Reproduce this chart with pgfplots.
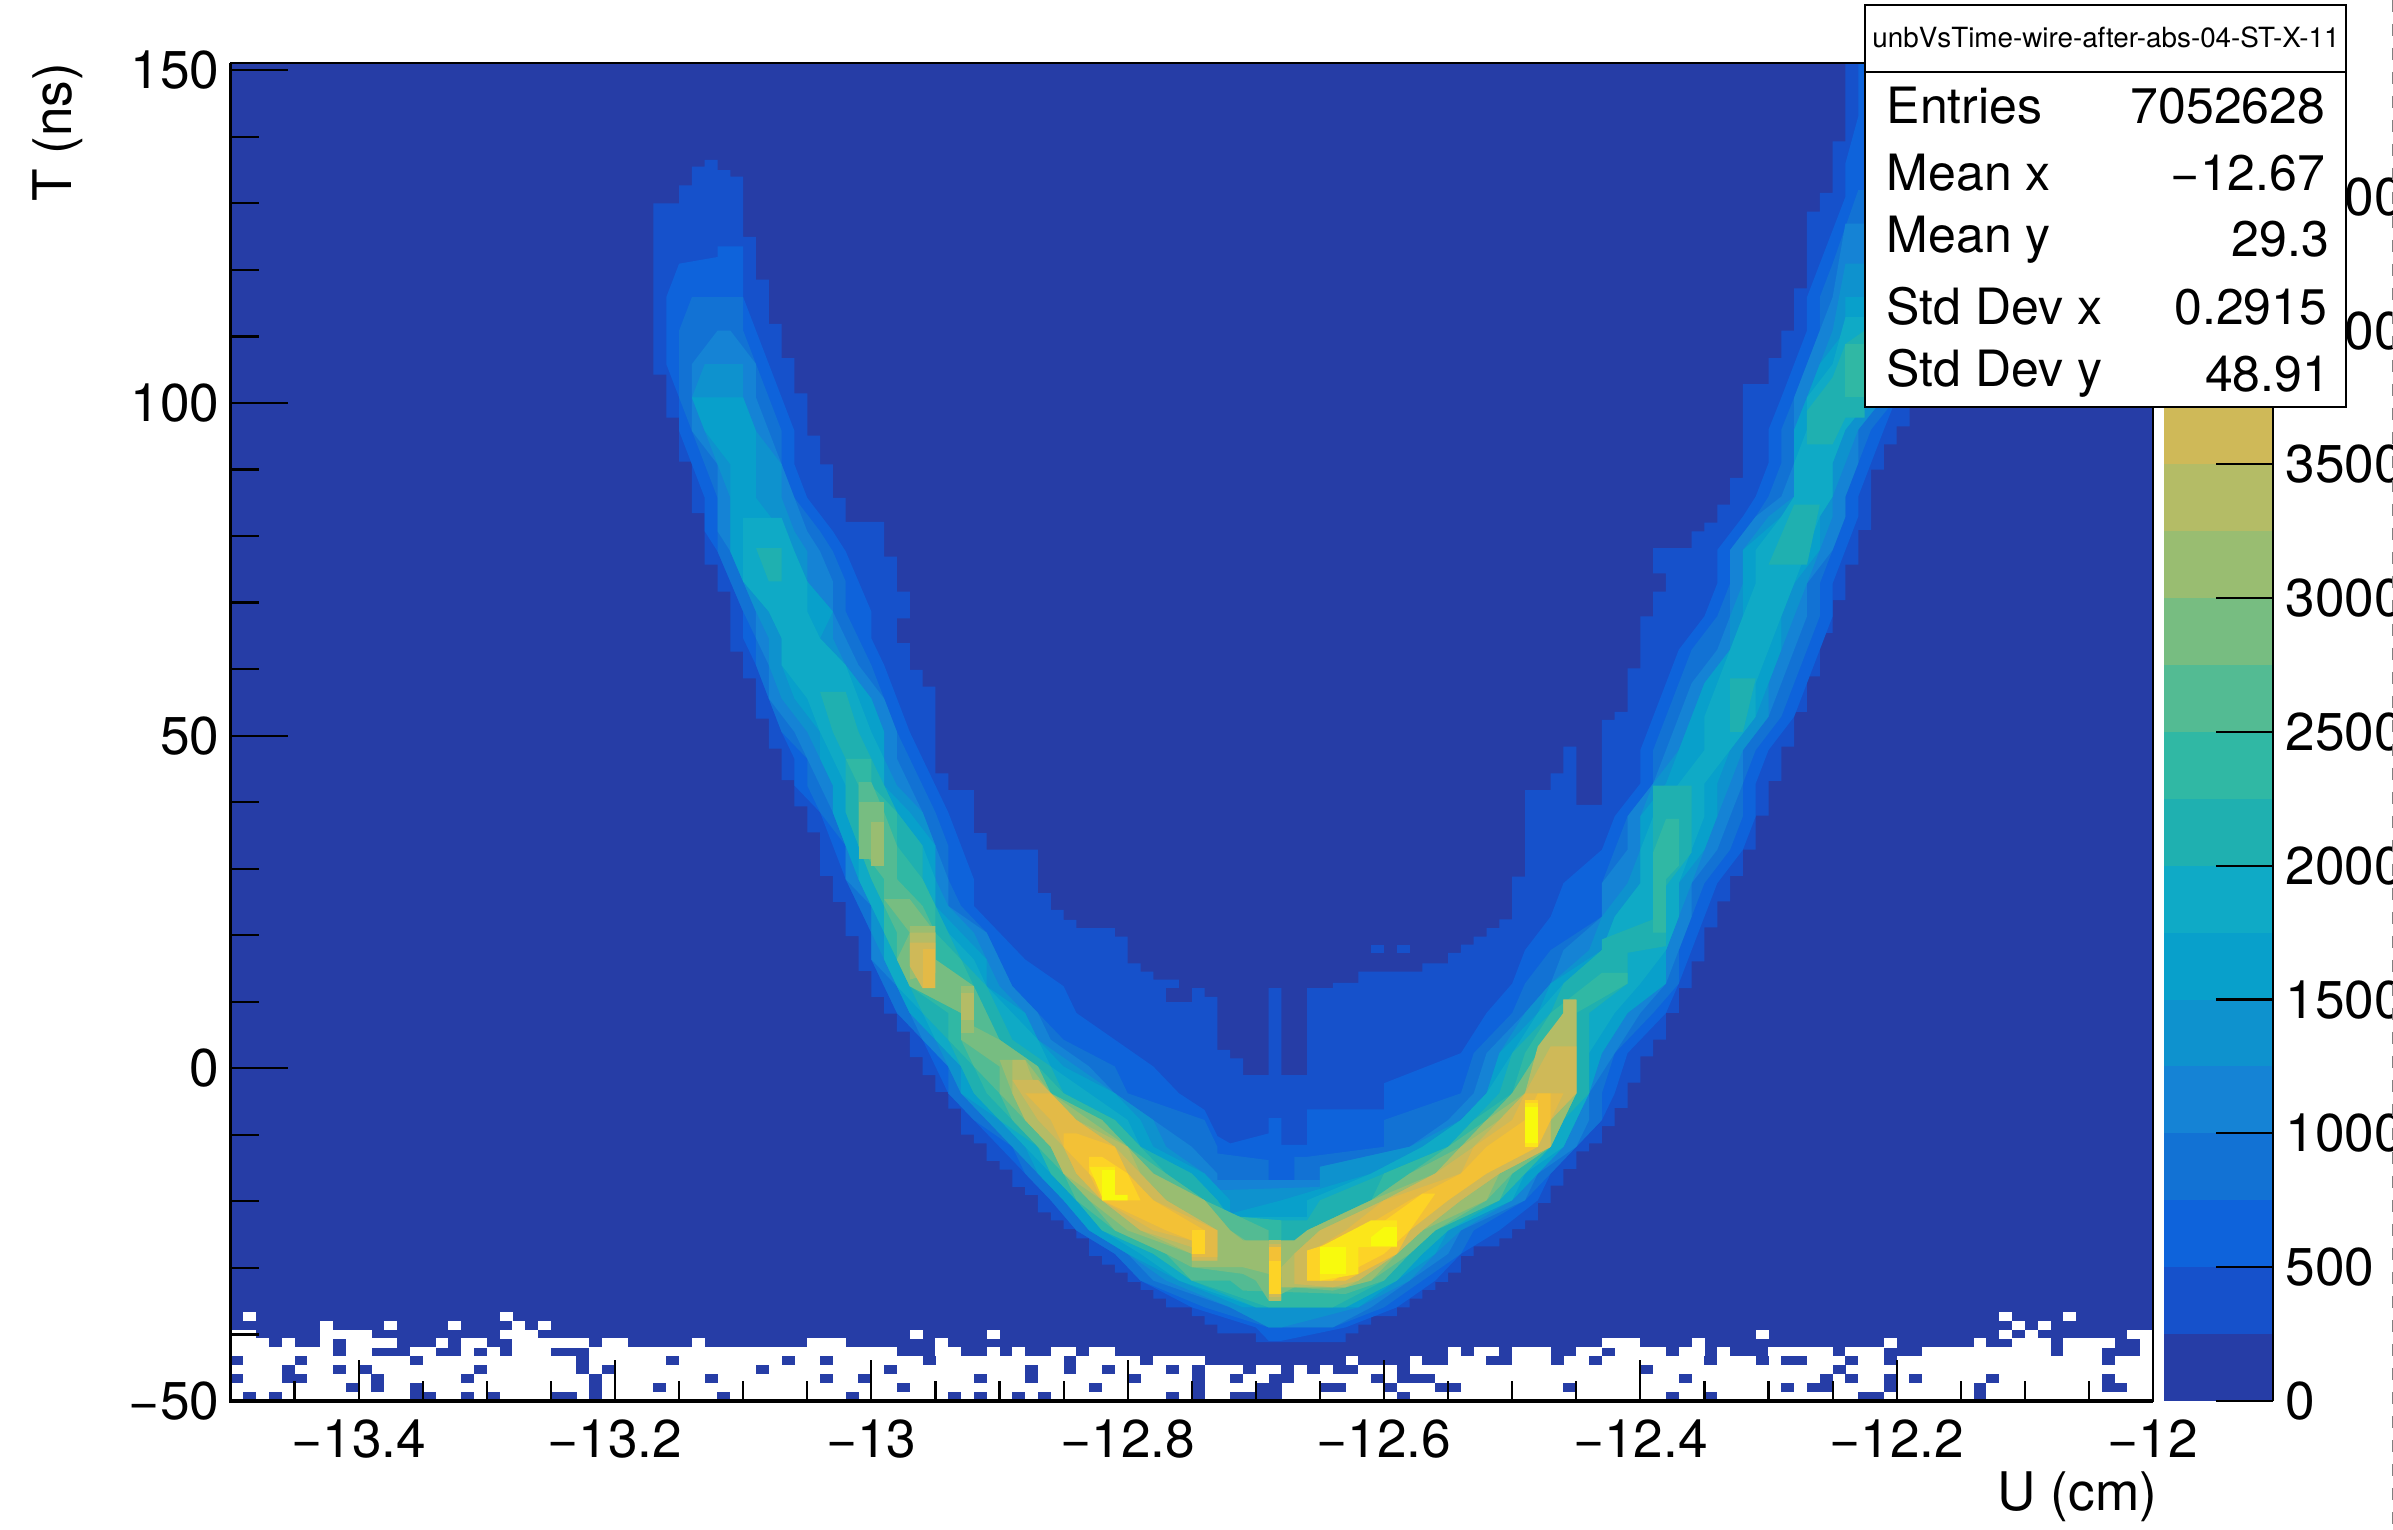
\documentclass[border=0pt]{standalone}
\usepackage{fontspec}
\setmainfont{TeX Gyre Heros}
\usepackage{pgfplots}
\pgfplotsset{compat=1.18}
\definecolor{L0}{RGB}{38,61,166}
\definecolor{L1}{RGB}{22,81,203}
\definecolor{L2}{RGB}{14,99,219}
\definecolor{L3}{RGB}{18,114,212}
\definecolor{L4}{RGB}{21,131,213}
\definecolor{L5}{RGB}{14,146,206}
\definecolor{L6}{RGB}{8,160,203}
\definecolor{L7}{RGB}{15,170,198}
\definecolor{L8}{RGB}{31,176,176}
\definecolor{L9}{RGB}{48,184,164}
\definecolor{L10}{RGB}{83,187,147}
\definecolor{L11}{RGB}{119,189,129}
\definecolor{L12}{RGB}{153,189,113}
\definecolor{L13}{RGB}{180,188,102}
\definecolor{L14}{RGB}{207,185,88}
\definecolor{L15}{RGB}{227,186,71}
\definecolor{L16}{RGB}{243,193,54}
\definecolor{L17}{RGB}{253,211,38}
\definecolor{L18}{RGB}{251,230,26}
\definecolor{L19}{RGB}{248,250,13}
\newcommand\fa{\fontsize{13.3pt}{16pt}\selectfont}
\newcommand\fs{\fontsize{12.5pt}{15pt}\selectfont}
\pgfdeclareplotmark{cell}{\pgfpathrectangle{\pgfqpoint{-1.62pt}{-1.13pt}}{\pgfqpoint{3.24pt}{2.26pt}}\pgfusepathqfill}
\newcommand\lev[2]{\addplot[fill=#1,draw=none,forget plot] coordinates {#2};}
\newcommand\cellrow[3]{\addplot[only marks,mark=cell,color=#1,mark options={fill=#1,draw=none},forget plot] table[row sep=\\,x expr=-13.495+0.01*\thisrow{c},y expr=#2] {c\\#3\\};}
\begin{document}
\begin{tikzpicture}
\path[use as bounding box] (0pt,0pt) rectangle (598.25pt,382.25pt);
% ---------- main heat map ----------
\begin{axis}[
  at={(57.625pt,32pt)},anchor=south west,scale only axis,
  width=480.625pt,height=334.5pt,
  xmin=-13.5,xmax=-12,ymin=-50,ymax=150,
  axis background/.style={fill=L0},
  axis on top,clip mode=individual,
  axis line style={line width=0.4pt},
  tick style={black,line width=0.55pt},
  tick align=inside,xtick pos=lower,ytick=\empty,
  major tick length=10.2pt,minor tick length=5pt,
  xtick={-13.4,-13.2,-13,-12.8,-12.6,-12.4,-12.2,-12},
  xticklabels={−13.4,−13.2,−13,−12.8,−12.6,−12.4,−12.2,−12},
  minor xtick={-13.45,-13.35,-13.3,-13.25,-13.15,-13.1,-13.05,-12.95,-12.9,-12.85,-12.75,-12.7,-12.65,-12.55,-12.5,-12.45,-12.35,-12.3,-12.25,-12.15,-12.1,-12.05},
  xticklabel style={font=\fa,yshift=-1.1pt},
]
% white (empty) bins near the bottom edge
\addplot[fill=white,draw=none,forget plot] coordinates {(-13.5,-50)(-12,-50)(-12,-43.33)(-13.5,-43.33)};
\cellrow{L0}{-49.33}{1\\3\\14\\15\\18\\20\\25\\26\\28\\38\\48\\56\\58\\61\\63\\73\\75\\78\\79\\80\\81\\91\\112\\115\\127\\128\\136}
\cellrow{L0}{-48}{9\\11\\14\\28\\33\\52\\67\\75\\80\\81\\85\\86\\90\\94\\95\\104\\121\\123\\124\\129\\136\\146\\147}
\cellrow{L0}{-46.67}{0\\4\\5\\11\\18\\28\\37\\46\\49\\58\\62\\70\\75\\78\\81\\82\\89\\91\\92\\93\\113\\124\\126\\129\\131\\137\\146}
\cellrow{L0}{-45.33}{4\\8\\10\\19\\27\\29\\41\\51\\62\\65\\68\\73\\75\\79\\82\\84\\86\\87\\91\\110\\125}
\cellrow{L0}{-44}{0\\5\\14\\27\\34\\43\\46\\54\\65\\71\\76\\77\\78\\79\\80\\81\\82\\83\\84\\85\\86\\88\\89\\90\\91\\93\\94\\98\\99\\103\\106\\115\\119\\121\\122\\126\\129\\146}
\cellrow{white}{-42.67}{0\\1\\2\\3\\4\\5\\6\\7\\9\\10\\14\\15\\18\\20\\22\\23\\24\\28\\29\\30\\31\\32\\33\\34\\35\\36\\37\\38\\39\\40\\41\\42\\43\\44\\45\\46\\47\\48\\49\\50\\51\\55\\56\\59\\61\\64\\65\\67\\68\\95\\97\\98\\100\\101\\102\\105\\106\\108\\109\\110\\111\\113\\114\\116\\120\\121\\122\\123\\124\\126\\127\\128\\132\\133\\134\\135\\136\\137\\138\\139\\140\\141\\143\\144\\145\\149}
\cellrow{white}{-41.33}{0\\1\\2\\4\\7\\9\\10\\11\\12\\16\\18\\19\\22\\23\\24\\25\\26\\27\\29\\30\\36\\45\\46\\47\\55\\107\\108\\109\\114\\129\\136\\139\\140\\141\\143\\144\\145\\146\\149}
\cellrow{white}{-40}{0\\1\\7\\8\\9\\10\\21\\22\\23\\53\\59\\119\\138\\140\\148\\149}
\cellrow{white}{-38.67}{7\\12\\17\\22\\24\\139\\141}
\cellrow{white}{-37.33}{1\\21\\138\\143}
% level 1 outline, stepped
\addplot[fill=L1,draw=none,const plot,forget plot] coordinates {
(-13.13,135.5)(-13.13,134.5)(-13.14,133)(-13.14,131.7)(-13.15,129)(-13.17,103.4)(-13.16,97)(-13.15,90.4)(-13.14,82.7)(-13.13,75)(-13.12,71)(-13.11,62)(-13.10,58)(-13.09,52)(-13.08,47.5)(-13.07,42.8)(-13.06,38.9)(-13.05,35)(-13.04,28.5)(-13.03,24.6)(-13.02,19.5)(-13.01,14.3)(-13.00,10.4)(-12.99,7.9)(-12.98,5.2)(-12.97,1.4)(-12.96,-1.3)(-12.95,-3.8)(-12.94,-6.3)(-12.93,-10.2)(-12.92,-11.5)(-12.91,-14.1)(-12.90,-15.4)(-12.89,-18)(-12.88,-19.2)(-12.87,-21.8)(-12.86,-23)(-12.85,-24.3)(-12.84,-25.7)(-12.83,-28.3)(-12.82,-29.6)(-12.81,-30.8)(-12.80,-32.2)(-12.79,-33.4)(-12.78,-34.7)(-12.77,-36)(-12.75,-37.3)(-12.74,-38.6)(-12.73,-39.9)(-12.70,-41.2)(-12.63,-41.2)
(-12.63,-39.9)(-12.62,-38.6)(-12.61,-37.3)(-12.59,-36)(-12.58,-34.7)(-12.57,-33.4)(-12.56,-32.2)(-12.55,-30.8)(-12.54,-28.3)(-12.53,-26.9)(-12.51,-25.7)(-12.50,-24.3)(-12.49,-23)(-12.48,-20.4)(-12.47,-17.8)(-12.46,-15.3)(-12.45,-12.7)(-12.44,-11.5)(-12.43,-8.9)(-12.42,-6.2)(-12.41,-2.4)(-12.40,1.5)(-12.39,4)(-12.38,8)(-12.37,11.7)(-12.36,15.7)(-12.35,20.8)(-12.34,24.7)(-12.33,28.5)(-12.32,32.4)(-12.31,37.5)(-12.30,42.7)(-12.29,47.8)(-12.28,53)(-12.27,58.3)(-12.26,64.8)(-12.25,69.7)(-12.24,75)(-12.23,80.2)(-12.22,89.2)(-12.21,93)(-12.20,95.7)(-12.19,150)(-12.24,150)
(-12.24,138.3)(-12.25,130.6)(-12.26,127.8)(-12.27,116.3)(-12.28,110)(-12.29,105.9)(-12.30,102)(-12.32,88)(-12.33,84)(-12.34,81.3)(-12.35,80)(-12.36,77.5)(-12.37,77.5)(-12.39,73.7)(-12.38,71)(-12.39,67.3)(-12.40,59.5)(-12.41,53)(-12.42,51.8)(-12.43,39.1)(-12.45,47.8)(-12.46,43.8)(-12.47,41.3)(-12.49,28.4)(-12.50,22)(-12.51,20.7)(-12.52,19.4)(-12.53,18.2)(-12.54,17)(-12.55,15.4)(-12.57,14.2)(-12.62,12.5)(-12.64,11.7)(-12.66,-1.3)(-12.68,11.7)(-12.69,-1.3)
(-12.70,-1.3)(-12.71,1.2)(-12.72,2.5)(-12.73,10.4)(-12.74,11.7)(-12.76,13)(-12.78,14.2)(-12.79,15.4)(-12.80,19.4)(-12.81,20.7)(-12.84,21.9)(-12.85,23.4)(-12.86,25.9)(-12.87,32.4)(-12.91,34.9)(-12.92,41.3)(-12.94,43.8)(-12.95,56.8)(-12.96,59.3)(-12.97,63.3)(-12.98,67)(-12.97,71)(-12.98,76.2)(-12.99,81.4)(-13.02,85)(-13.03,90)(-13.04,94.3)(-13.05,100.6)(-13.06,105.9)(-13.07,111)(-13.08,117.6)(-13.09,124)(-13.10,133)(-13.11,134)(-13.12,135.5)};
% holes and bumps of level 1
\lev{L0}{(-12.77,9.7)(-12.75,9.7)(-12.75,11.7)(-12.77,11.7)}
\lev{L1}{(-12.61,16.9)(-12.60,16.9)(-12.60,18.2)(-12.61,18.2)}
\lev{L1}{(-12.59,16.9)(-12.58,16.9)(-12.58,18.2)(-12.59,18.2)}
% level 2
\lev{L2}{(-13.10,122.6)(-13.12,122.6)(-13.12,121)(-13.15,120)(-13.16,115)(-13.16,105)(-13.15,100)(-13.15,95)(-13.14,90)(-13.13,85)(-13.13,80)(-13.12,77)(-13.11,72.5)(-13.10,68)(-13.10,64)(-13.09,60)(-13.08,55)(-13.07,50)(-13.06,46)(-13.06,42)(-13.04,38)(-13.03,33)(-13.02,28)(-13.01,24)(-13.00,20)(-13.00,16)(-12.99,12)(-12.98,8)(-12.96,4)(-12.95,0)(-12.94,-4)(-12.92,-8)(-12.90,-12)(-12.88,-16)(-12.86,-20)(-12.84,-24.5)(-12.81,-28)(-12.79,-32)(-12.75,-36)(-12.70,-39)(-12.69,-41)(-12.68,-41)(-12.63,-39)(-12.59,-36)(-12.56,-32)(-12.54,-28)(-12.51,-24.5)(-12.48,-20)(-12.47,-16)(-12.45,-12)(-12.43,-8)(-12.42,-4)(-12.41,2)(-12.38,8)(-12.37,12.4)(-12.36,17.4)(-12.35,22.4)(-12.34,27.4)(-12.32,32.4)(-12.31,37.4)(-12.31,42.3)(-12.30,47.3)(-12.28,52.3)(-12.27,57.3)(-12.26,62.3)(-12.25,67.3)(-12.25,72.2)(-12.24,77.2)(-12.23,82.2)(-12.23,85.2)(-12.22,90.2)(-12.21,95.2)(-12.20,100)(-12.20,150)(-12.23,150)(-12.23,142)(-12.24,135)(-12.24,130)(-12.25,125)(-12.26,120)(-12.27,115)(-12.27,110)(-12.28,105)(-12.29,100)(-12.30,95.2)(-12.30,90.2)(-12.31,85.2)(-12.32,82.2)(-12.34,77.2)(-12.34,72.2)(-12.35,67.3)(-12.37,62.3)(-12.38,57.3)(-12.39,52.3)(-12.40,47.3)(-12.40,42.3)(-12.42,37.4)(-12.43,32.4)(-12.46,27.4)(-12.47,22.4)(-12.49,17.4)(-12.50,12.4)(-12.52,8)(-12.54,2)(-12.60,-2.5)(-12.60,-6.4)(-12.66,-6.4)(-12.66,-11.7)(-12.68,-11.7)(-12.68,-7.7)(-12.69,-7.7)(-12.69,-10)(-12.72,-11.5)(-12.73,-10.4)(-12.74,-6.5)(-12.76,-4)(-12.78,0)(-12.81,4)(-12.84,8)(-12.85,12)(-12.88,16)(-12.90,20)(-12.92,24)(-12.92,28)(-12.93,33)(-12.94,38)(-12.95,42)(-12.96,46)(-12.97,50)(-12.98,55)(-12.99,60)(-13.00,64)(-13.00,68)(-13.01,72.5)(-13.02,77)(-13.03,80)(-13.05,85)(-13.06,90)(-13.06,95)(-13.07,100)(-13.08,105)(-13.09,110)(-13.10,115)}
% level 3
\lev{L3}{(-13.14,115)(-13.15,110)(-13.15,105)(-13.15,100)(-13.14,95)(-13.13,90)(-13.12,85)(-13.12,80)(-13.12,77)(-13.11,72.5)(-13.10,68)(-13.09,64)(-13.09,60)(-13.08,55)(-13.07,50)(-13.05,46)(-13.05,42)(-13.04,38)(-13.02,33)(-13.02,28)(-13.01,24)(-13.00,20)(-13.00,16)(-12.99,12)(-12.98,8)(-12.96,4)(-12.94,0)(-12.94,-4)(-12.92,-8)(-12.89,-12)(-12.88,-16)(-12.86,-20)(-12.84,-24.5)(-12.81,-28)(-12.79,-32)(-12.74,-36)(-12.69,-39)(-12.64,-39)(-12.60,-36)(-12.57,-32)(-12.54,-28)(-12.53,-24.5)(-12.49,-20)(-12.47,-16)(-12.45,-12)(-12.43,-8)(-12.43,-4)(-12.42,2)(-12.39,8)(-12.37,12.4)(-12.37,17.4)(-12.36,22.4)(-12.35,27.4)(-12.33,32.4)(-12.32,37.4)(-12.32,42.3)(-12.31,47.3)(-12.29,52.3)(-12.28,57.3)(-12.27,62.3)(-12.26,67.3)(-12.26,72.2)(-12.25,77.2)(-12.24,82.2)(-12.24,85.2)(-12.23,90.2)(-12.22,95.2)(-12.20,100)(-12.20,131)(-12.23,131)(-12.25,120)(-12.26,115)(-12.26,110)(-12.27,105)(-12.28,100)(-12.29,95.2)(-12.29,90.2)(-12.30,85.2)(-12.31,82.2)(-12.33,77.2)(-12.33,72.2)(-12.34,67.3)(-12.36,62.3)(-12.37,57.3)(-12.38,52.3)(-12.39,47.3)(-12.39,42.3)(-12.41,37.4)(-12.42,32.4)(-12.43,27.4)(-12.43,22.4)(-12.47,17.4)(-12.49,12.4)(-12.50,8)(-12.53,2)(-12.54,-4)(-12.60,-8)(-12.60,-12)(-12.66,-13.5)(-12.67,-13.5)(-12.67,-18)(-12.69,-18)(-12.69,-14)(-12.73,-13)(-12.73,-12)(-12.74,-8)(-12.80,-4)(-12.81,0)(-12.85,4)(-12.87,8)(-12.89,12)(-12.90,16)(-12.91,20)(-12.93,24)(-12.94,28)(-12.94,33)(-12.95,38)(-12.96,42)(-12.97,46)(-12.98,50)(-12.99,55)(-13.00,60)(-13.01,64)(-13.02,68)(-13.02,72.5)(-13.03,77)(-13.04,80)(-13.06,85)(-13.07,90)(-13.07,95)(-13.08,100)(-13.09,105)(-13.10,110)(-13.10,115)}
% level 4
\lev{L4}{(-13.12,110)(-13.14,105)(-13.14,100)(-13.14,95)(-13.12,90)(-13.12,85)(-13.12,80)(-13.11,77)(-13.10,72.5)(-13.09,68)(-13.09,64)(-13.08,60)(-13.08,55)(-13.06,50)(-13.05,46)(-13.04,42)(-13.03,38)(-13.02,33)(-13.02,28)(-13.00,24)(-13.00,20)(-13.00,16)(-12.98,12)(-12.97,8)(-12.96,4)(-12.94,0)(-12.93,-4)(-12.91,-8)(-12.89,-12)(-12.87,-16)(-12.85,-20)(-12.83,-24.5)(-12.80,-28)(-12.78,-32)(-12.72,-36)(-12.69,-39)(-12.64,-39)(-12.61,-36)(-12.58,-32)(-12.55,-28)(-12.54,-24.5)(-12.49,-20)(-12.48,-16)(-12.45,-12)(-12.44,-8)(-12.44,-4)(-12.42,2)(-12.40,8)(-12.38,12.4)(-12.37,17.4)(-12.36,22.4)(-12.36,27.4)(-12.34,32.4)(-12.33,37.4)(-12.32,42.3)(-12.32,47.3)(-12.30,52.3)(-12.29,57.3)(-12.28,62.3)(-12.27,67.3)(-12.27,72.2)(-12.25,77.2)(-12.24,82.2)(-12.24,85.2)(-12.23,90.2)(-12.23,95.2)(-12.21,100)(-12.21,126)(-12.24,126)(-12.25,115)(-12.26,110)(-12.27,105)(-12.28,100)(-12.28,95.2)(-12.28,90.2)(-12.29,85.2)(-12.31,82.2)(-12.33,77.2)(-12.33,72.2)(-12.33,67.3)(-12.34,62.3)(-12.36,57.3)(-12.37,52.3)(-12.38,47.3)(-12.39,42.3)(-12.41,37.4)(-12.41,32.4)(-12.43,27.4)(-12.43,22.4)(-12.46,17.4)(-12.47,12.4)(-12.49,8)(-12.52,2)(-12.53,-4)(-12.55,-8)(-12.58,-12)(-12.65,-15)(-12.65,-17)(-12.73,-17)(-12.73,-16)(-12.75,-12)(-12.78,-8)(-12.81,-4)(-12.83,0)(-12.86,4)(-12.87,8)(-12.89,12)(-12.90,16)(-12.91,20)(-12.94,24)(-12.94,28)(-12.95,33)(-12.96,38)(-12.97,42)(-12.98,46)(-12.98,50)(-12.99,55)(-13.01,60)(-13.02,64)(-13.03,68)(-13.03,72.5)(-13.04,77)(-13.05,80)(-13.06,85)(-13.07,90)(-13.08,95)(-13.09,100)(-13.09,105)(-13.11,110)}
% level 5
\lev{L5}{(-13.13,105)(-13.14,100)(-13.13,95)(-13.12,90)(-13.11,85)(-13.11,80)(-13.11,77)(-13.10,72.5)(-13.09,68)(-13.08,64)(-13.08,60)(-13.07,55)(-13.05,50)(-13.04,46)(-13.03,42)(-13.03,38)(-13.02,33)(-13.01,28)(-13.00,24)(-13.00,20)(-12.99,16)(-12.98,12)(-12.97,8)(-12.95,4)(-12.94,0)(-12.93,-4)(-12.91,-8)(-12.89,-12)(-12.87,-16)(-12.85,-20)(-12.83,-24.5)(-12.80,-28)(-12.77,-32)(-12.72,-36)(-12.69,-39)(-12.68,-39)(-12.62,-36)(-12.58,-32)(-12.56,-28)(-12.54,-24.5)(-12.50,-20)(-12.48,-16)(-12.46,-12)(-12.45,-8)(-12.44,-4)(-12.43,2)(-12.41,8)(-12.38,12.4)(-12.38,17.4)(-12.37,22.4)(-12.36,27.4)(-12.35,32.4)(-12.34,37.4)(-12.33,42.3)(-12.32,47.3)(-12.30,52.3)(-12.30,57.3)(-12.29,62.3)(-12.28,67.3)(-12.27,72.2)(-12.26,77.2)(-12.25,82.2)(-12.25,85.2)(-12.24,90.2)(-12.23,95.2)(-12.21,100)(-12.21,120)(-12.24,120)(-12.25,110)(-12.26,105)(-12.27,100)(-12.28,95.2)(-12.28,90.2)(-12.28,85.2)(-12.30,82.2)(-12.32,77.2)(-12.32,72.2)(-12.33,67.3)(-12.33,62.3)(-12.35,57.3)(-12.36,52.3)(-12.37,47.3)(-12.39,42.3)(-12.40,37.4)(-12.40,32.4)(-12.41,27.4)(-12.43,22.4)(-12.44,17.4)(-12.47,12.4)(-12.49,8)(-12.51,2)(-12.52,-4)(-12.54,-8)(-12.58,-12)(-12.65,-15)(-12.65,-18)(-12.73,-18.5)(-12.74,-16)(-12.77,-12)(-12.78,-8)(-12.81,-4)(-12.84,0)(-12.87,4)(-12.88,8)(-12.90,12)(-12.91,16)(-12.92,20)(-12.94,24)(-12.95,28)(-12.95,33)(-12.96,38)(-12.98,42)(-12.99,46)(-12.99,50)(-13.00,55)(-13.02,60)(-13.03,64)(-13.03,68)(-13.05,72.5)(-13.05,77)(-13.06,80)(-13.07,85)(-13.07,90)(-13.09,95)(-13.10,100)(-13.10,105)}
% level 6
\lev{L6}{(-13.14,100)(-13.13,95)(-13.11,90)(-13.11,85)(-13.11,80)(-13.11,77)(-13.10,72.5)(-13.08,68)(-13.07,64)(-13.07,60)(-13.06,55)(-13.04,50)(-13.04,46)(-13.03,42)(-13.03,38)(-13.02,33)(-13.01,28)(-13.00,24)(-12.99,20)(-12.99,16)(-12.98,12)(-12.97,8)(-12.95,4)(-12.93,0)(-12.93,-4)(-12.90,-8)(-12.88,-12)(-12.87,-16)(-12.85,-20)(-12.83,-24.5)(-12.80,-28)(-12.76,-32)(-12.71,-36)(-12.62,-36)(-12.59,-32)(-12.56,-28)(-12.55,-24.5)(-12.50,-20)(-12.48,-16)(-12.46,-12)(-12.45,-8)(-12.44,-4)(-12.43,2)(-12.41,8)(-12.38,12.4)(-12.38,17.4)(-12.37,22.4)(-12.37,27.4)(-12.35,32.4)(-12.34,37.4)(-12.34,42.3)(-12.33,47.3)(-12.31,52.3)(-12.30,57.3)(-12.29,62.3)(-12.29,67.3)(-12.28,72.2)(-12.26,77.2)(-12.26,82.2)(-12.25,85.2)(-12.25,90.2)(-12.24,95.2)(-12.22,100)(-12.22,115)(-12.24,115)(-12.24,110)(-12.26,105)(-12.27,100)(-12.28,95.2)(-12.28,90.2)(-12.28,85.2)(-12.29,82.2)(-12.32,77.2)(-12.32,72.2)(-12.32,67.3)(-12.33,62.3)(-12.35,57.3)(-12.36,52.3)(-12.37,47.3)(-12.38,42.3)(-12.40,37.4)(-12.40,32.4)(-12.40,27.4)(-12.42,22.4)(-12.43,17.4)(-12.47,12.4)(-12.48,8)(-12.51,2)(-12.52,-4)(-12.54,-8)(-12.57,-12)(-12.61,-16)(-12.68,-20)(-12.72,-22)(-12.72,-20)(-12.74,-16)(-12.78,-12)(-12.79,-8)(-12.81,-4)(-12.85,0)(-12.87,4)(-12.88,8)(-12.91,12)(-12.91,16)(-12.93,20)(-12.95,24)(-12.95,28)(-12.95,33)(-12.97,38)(-12.99,42)(-12.99,46)(-12.99,50)(-13.00,55)(-13.02,60)(-13.04,64)(-13.03,68)(-13.05,72.5)(-13.06,77)(-13.07,80)(-13.09,85)(-13.09,90)(-13.09,95)(-13.10,100)}
% level 7
\lev{L7}{(-13.10,82)(-13.10,77)(-13.10,72.5)(-13.08,68)(-13.07,64)(-13.07,60)(-13.05,55)(-13.04,50)(-13.03,46)(-13.02,42)(-13.02,38)(-13.01,33)(-13.01,28)(-13.00,24)(-12.99,20)(-12.99,16)(-12.98,12)(-12.96,8)(-12.95,4)(-12.93,0)(-12.92,-4)(-12.90,-8)(-12.88,-12)(-12.86,-16)(-12.84,-20)(-12.82,-24.5)(-12.79,-28)(-12.76,-32)(-12.70,-36)(-12.63,-36)(-12.59,-32)(-12.57,-28)(-12.55,-24.5)(-12.50,-20)(-12.49,-16)(-12.46,-12)(-12.45,-8)(-12.44,-4)(-12.44,2)(-12.42,8)(-12.40,12.4)(-12.38,17.4)(-12.37,22.4)(-12.37,27.4)(-12.36,32.4)(-12.35,37.4)(-12.35,42.3)(-12.33,47.3)(-12.31,52.3)(-12.31,57.3)(-12.30,62.3)(-12.29,67.3)(-12.28,72.2)(-12.27,77.2)(-12.26,82.2)(-12.25,85.2)(-12.25,90.2)(-12.24,95.2)(-12.22,100)(-12.22,112)(-12.24,112)(-12.25,105)(-12.27,100)(-12.27,95.2)(-12.28,90.2)(-12.28,85.2)(-12.29,82.2)(-12.31,77.2)(-12.31,72.2)(-12.32,67.3)(-12.33,62.3)(-12.34,57.3)(-12.35,52.3)(-12.35,47.3)(-12.37,42.3)(-12.39,37.4)(-12.40,32.4)(-12.40,27.4)(-12.42,22.4)(-12.43,17.4)(-12.46,12.4)(-12.48,8)(-12.50,2)(-12.52,-4)(-12.54,-8)(-12.57,-12)(-12.61,-16)(-12.66,-20)(-12.66,-22.5)(-12.72,-22.5)(-12.73,-20)(-12.75,-16)(-12.79,-12)(-12.80,-8)(-12.83,-4)(-12.86,0)(-12.87,4)(-12.89,8)(-12.91,12)(-12.92,16)(-12.94,20)(-12.95,24)(-12.95,28)(-12.96,33)(-12.98,38)(-12.99,42)(-12.99,46)(-13.00,50)(-13.01,55)(-13.02,60)(-13.04,64)(-13.05,68)(-13.05,72.5)(-13.06,77)(-13.07,82)}
% level 8
\lev{L8}{(-13.09,77.5)(-13.07,77.5)(-13.07,72.5)(-13.08,72.5)}
\lev{L8}{(-12.30,75)(-12.27,75)(-12.26,84)(-12.28,84)}
\lev{L8}{(-12.27,93)(-12.25,93)(-12.24,97)(-12.225,97)(-12.225,110)(-12.24,108)(-12.25,103)(-12.27,98)}
\lev{L8}{(-12.33,50)(-12.32,50)(-12.31,58)(-12.33,58)}
\lev{L8}{(-13.04,56)(-13.03,50)(-13.02,46)(-13.02,42)(-13.02,38)(-13.01,33)(-13.00,28)(-12.99,24)(-12.99,20)(-12.98,16)(-12.97,12)(-12.96,8)(-12.94,4)(-12.93,0)(-12.92,-4)(-12.90,-8)(-12.87,-12)(-12.86,-16)(-12.84,-20)(-12.82,-24.5)(-12.78,-28)(-12.75,-32)(-12.70,-36)(-12.63,-36)(-12.59,-32)(-12.57,-28)(-12.55,-24.5)(-12.51,-20)(-12.49,-16)(-12.47,-12)(-12.46,-8)(-12.44,-4)(-12.44,2)(-12.44,8)(-12.41,12.4)(-12.41,17)(-12.38,18)(-12.38,27)(-12.36,32)(-12.36,37.4)(-12.36,42)(-12.39,42)(-12.39,33)(-12.39,22)(-12.43,19)(-12.43,17.4)(-12.46,12.4)(-12.47,8)(-12.50,2)(-12.51,-4)(-12.53,-8)(-12.55,-12)(-12.60,-16)(-12.65,-20)(-12.66,-23)(-12.72,-23)(-12.73,-20)(-12.75,-16)(-12.79,-12)(-12.81,-8)(-12.85,-4)(-12.86,0)(-12.89,4)(-12.90,8)(-12.91,12)(-12.93,16)(-12.94,20)(-12.95,24)(-12.96,28)(-12.96,33)(-12.98,38)(-12.99,42)(-13.00,46)(-13.01,50)(-13.02,56)}
% level 9
\lev{L9}{(-12.39,20)(-12.38,20)(-12.38,28)(-12.37,30)(-12.37,37)(-12.38,37)(-12.39,32)}
\lev{L9}{(-12.24,100)(-12.225,100)(-12.225,108)(-12.24,108)}
\lev{L9}{(-13.02,46)(-13.01,42)(-13.01,33)(-13.00,28)(-12.99,24)(-12.99,20)(-12.98,16)(-12.97,12)(-12.94,8)(-12.94,4)(-12.92,0)(-12.91,-4)(-12.89,-8)(-12.87,-12)(-12.86,-16)(-12.84,-20)(-12.82,-24.5)(-12.78,-28)(-12.75,-32)(-12.72,-34)(-12.69,-36)(-12.64,-36)(-12.60,-32)(-12.58,-28)(-12.56,-24.5)(-12.51,-20)(-12.49,-16)(-12.47,-12)(-12.46,-8)(-12.45,-4)(-12.45,8)(-12.41,12.4)(-12.41,14)(-12.43,14)(-12.47,8)(-12.49,2)(-12.50,-4)(-12.53,-8)(-12.55,-12)(-12.60,-16)(-12.61,-20)(-12.66,-24.5)(-12.66,-26)(-12.68,-26)(-12.68,-23)(-12.74,-22)(-12.74,-20)(-12.77,-16)(-12.79,-12)(-12.81,-8)(-12.85,-4)(-12.87,0)(-12.90,4)(-12.91,8)(-12.92,12)(-12.93,16)(-12.95,20)(-12.95,24)(-12.96,28)(-12.98,33)(-12.98,38)(-13.00,42)(-13.00,46)}
% level 10
\lev{L10}{(-13.01,42.5)(-13.00,42.5)(-12.99,38)(-12.98,33)(-12.98,28)(-12.96,24)(-12.95,20)(-12.95,16)(-12.92,12)(-12.91,8)(-12.90,4)(-12.87,0)(-12.86,-4)(-12.82,-8)(-12.80,-12)(-12.77,-16)(-12.74,-20)(-12.69,-24.5)(-12.69,-26.5)(-12.66,-26.5)(-12.66,-24.5)(-12.61,-20)(-12.58,-16)(-12.55,-12)(-12.52,-8)(-12.50,-4)(-12.48,2)(-12.46,8)(-12.46,10)(-12.45,10)(-12.45,-4)(-12.46,-8)(-12.47,-12)(-12.50,-16)(-12.51,-20)(-12.56,-24.5)(-12.58,-28)(-12.60,-32)(-12.63,-34)(-12.71,-33.5)(-12.72,-32)(-12.75,-32)(-12.77,-28)(-12.81,-24.5)(-12.84,-20)(-12.85,-16)(-12.87,-12)(-12.89,-8)(-12.90,-4)(-12.92,0)(-12.93,4)(-12.93,8)(-12.97,12)(-12.98,16)(-12.98,20)(-12.99,24)(-12.99,28)(-13.01,33)(-13.01,38)}
% level 11
\lev{L11}{(-13.01,39.5)(-12.99,39.5)(-12.99,31)(-13.01,31)}
\lev{L11}{(-12.99,25)(-12.97,25)(-12.95,20)(-12.95,16)(-12.92,12)(-12.92,6)(-12.90,4)(-12.87,0)(-12.86,-4)(-12.82,-8)(-12.80,-12)(-12.78,-16)(-12.74,-20)(-12.72,-24.5)(-12.70,-27)(-12.67,-27)(-12.66,-24.5)(-12.61,-20)(-12.58,-16)(-12.54,-12)(-12.52,-8)(-12.50,-4)(-12.48,2)(-12.46,8)(-12.46,10)(-12.45,10)(-12.45,-4)(-12.46,-8)(-12.47,-12)(-12.50,-16)(-12.52,-20)(-12.56,-24.5)(-12.58,-28)(-12.61,-32)(-12.64,-33.5)(-12.67,-33)(-12.69,-35)(-12.70,-32)(-12.71,-31)(-12.75,-30)(-12.77,-28)(-12.81,-24.5)(-12.83,-20)(-12.85,-16)(-12.86,-12)(-12.88,-8)(-12.90,-4)(-12.90,0)(-12.93,4)(-12.93,8)(-12.97,12)(-12.98,16)(-12.97,20)}
% level 12
\lev{L12}{(-13.00,36.5)(-12.99,36.5)(-12.99,30)(-13.00,30)}
\lev{L12}{(-12.97,21)(-12.95,21)(-12.95,14)(-12.97,13)}
\lev{L12}{(-12.93,12)(-12.92,12)(-12.92,5)(-12.93,5)}
\lev{L12}{(-12.90,1)(-12.88,1)(-12.86,-4)(-12.83,-8)(-12.80,-12)(-12.78,-16)(-12.74,-20)(-12.72,-24.5)(-12.71,-26)(-12.67,-26)(-12.66,-24.5)(-12.61,-20)(-12.56,-16)(-12.54,-12)(-12.52,-8)(-12.49,-4)(-12.48,2)(-12.46,8)(-12.46,10)(-12.45,10)(-12.45,-4)(-12.46,-8)(-12.47,-12)(-12.51,-16)(-12.52,-20)(-12.57,-24.5)(-12.59,-28)(-12.61,-32)(-12.63,-33)(-12.66,-33)(-12.68,-31.5)(-12.68,-35)(-12.69,-35)(-12.69,-31)(-12.71,-30)(-12.75,-30)(-12.75,-28)(-12.80,-24.5)(-12.83,-20)(-12.85,-16)(-12.86,-12)(-12.88,-8)(-12.89,-4)}
% level 13
\lev{L13}{(-12.97,20)(-12.95,20)(-12.95,14)(-12.97,15)}
\lev{L13}{(-12.93,11)(-12.92,11)(-12.92,7)(-12.93,7)}
\lev{L13}{(-12.69,-26)(-12.68,-26)(-12.68,-35)(-12.69,-35)}
\lev{L13}{(-12.89,1)(-12.88,1)(-12.87,-4)(-12.84,-8)(-12.80,-12)(-12.79,-16)(-12.77,-20)(-12.73,-24.5)(-12.73,-29)(-12.75,-29)(-12.75,-28)(-12.79,-24.5)(-12.82,-20)(-12.85,-16)(-12.86,-12)(-12.88,-8)(-12.89,-4)}
\lev{L13}{(-12.48,3)(-12.46,8)(-12.46,10)(-12.45,10)(-12.45,-4)(-12.47,-8)(-12.47,-12)(-12.51,-16)(-12.54,-20)(-12.57,-24.5)(-12.59,-28)(-12.62,-32)(-12.63,-33)(-12.68,-33)(-12.68,-30)(-12.67,-28)(-12.65,-24.5)(-12.60,-20)(-12.56,-16)(-12.54,-12)(-12.51,-8)(-12.49,-4)}
% level 14
\lev{L14}{(-12.97,18.5)(-12.95,18.5)(-12.95,11.7)(-12.96,11.7)(-12.97,15)}
\lev{L14}{(-12.69,-26.5)(-12.68,-26.5)(-12.68,-34.5)(-12.69,-34.5)}
\lev{L14}{(-12.89,-2)(-12.87,-2)(-12.84,-8)(-12.81,-12)(-12.79,-16)(-12.77,-20)(-12.73,-24.5)(-12.73,-29)(-12.75,-29)(-12.75,-27)(-12.79,-24.5)(-12.82,-20)(-12.84,-16)(-12.85,-12)(-12.87,-8)}
\lev{L14}{(-12.47,3)(-12.45,3)(-12.45,-4)(-12.47,-8)(-12.47,-12)(-12.51,-16)(-12.54,-20)(-12.57,-24.5)(-12.59,-28)(-12.62,-32)(-12.64,-33)(-12.67,-32.5)(-12.67,-28)(-12.65,-24.5)(-12.60,-20)(-12.56,-16)(-12.53,-12)(-12.51,-8)(-12.49,-4)}
% level 15
\lev{L15}{(-12.96,17.5)(-12.95,17.5)(-12.95,11.7)(-12.96,11.7)}
\lev{L15}{(-12.88,-4)(-12.86,-4)(-12.84,-8)(-12.81,-12)(-12.80,-16)(-12.78,-20)(-12.73,-24.5)(-12.73,-28.5)(-12.75,-28.5)(-12.75,-26)(-12.78,-24.5)(-12.82,-20)(-12.84,-16)(-12.85,-12)(-12.86,-8)}
\lev{L15}{(-12.49,-4)(-12.46,-4)(-12.47,-8)(-12.48,-12)(-12.52,-16)(-12.55,-20)(-12.58,-24.5)(-12.59,-28)(-12.63,-32)(-12.66,-32)(-12.66,-28)(-12.63,-24.5)(-12.60,-20)(-12.54,-16)(-12.53,-12)(-12.50,-8)}
% level 16
\lev{L16}{(-12.69,-27)(-12.68,-27)(-12.68,-34)(-12.69,-34)}
\lev{L16}{(-12.85,-10)(-12.84,-10)(-12.81,-12)(-12.80,-16)(-12.78,-20)(-12.74,-24.5)(-12.74,-28)(-12.75,-28)(-12.75,-26)(-12.77,-24.5)(-12.82,-20)(-12.83,-16)(-12.85,-12)}
\lev{L16}{(-12.48,-4)(-12.47,-4)(-12.47,-8)(-12.48,-12)(-12.52,-16)(-12.55,-20)(-12.58,-24.5)(-12.59,-28)(-12.63,-32)(-12.66,-32)(-12.66,-28)(-12.62,-24.5)(-12.58,-20)(-12.54,-16)(-12.52,-12)(-12.49,-8)}
% level 17
\lev{L17}{(-12.69,-29)(-12.68,-29)(-12.68,-34)(-12.69,-34)}
\lev{L17}{(-12.83,-13.5)(-12.82,-13.5)(-12.80,-16)(-12.79,-20)(-12.81,-20)(-12.83,-16)}
\lev{L17}{(-12.75,-24.5)(-12.74,-24.5)(-12.74,-28)(-12.75,-28)}
\lev{L17}{(-12.49,-5)(-12.48,-5)(-12.48,-12)(-12.49,-12)}
\lev{L17}{(-12.57,-19)(-12.56,-19)(-12.58,-24.5)(-12.60,-28)(-12.64,-32)(-12.66,-32)(-12.66,-27.5)(-12.61,-24.5)}
% level 18
\lev{L18}{(-12.83,-15)(-12.81,-15)(-12.81,-19.5)(-12.82,-19.5)}
\lev{L18}{(-12.49,-5.5)(-12.48,-5.5)(-12.48,-12)(-12.49,-12)}
\lev{L18}{(-12.61,-23)(-12.59,-23)(-12.59,-27)(-12.62,-27)(-12.62,-31)(-12.65,-32)(-12.65,-27)}
% level 19
\lev{L19}{(-12.82,-15.5)(-12.81,-15.5)(-12.81,-19.2)(-12.80,-19.2)(-12.80,-20)(-12.82,-20)}
\lev{L19}{(-12.49,-6)(-12.48,-6)(-12.48,-11.5)(-12.49,-11.5)}
\lev{L19}{(-12.60,-24)(-12.59,-24)(-12.59,-26.8)(-12.61,-26.8)(-12.61,-25.5)}
\lev{L19}{(-12.65,-27)(-12.63,-27)(-12.63,-31)(-12.65,-31)}
\draw[line width=0.8pt] (rel axis cs:0,1)--(rel axis cs:0,0)--(rel axis cs:1,0);
\end{axis}
% ---------- y ticks of the main axis ----------
\begin{axis}[
  at={(57.625pt,32pt)},anchor=south west,scale only axis,
  width=480.625pt,height=334.5pt,
  xmin=-13.5,xmax=-12,ymin=-50,ymax=151.1,
  axis line style={draw=none},
  xtick=\empty,
  tick style={black,line width=0.55pt},
  tick align=inside,ytick pos=left,
  major tick length=14.25pt,minor tick length=7pt,
  ytick={-50,0,50,100,150},
  yticklabels={−50,0,50,100,150},
  minor ytick={-40,-30,-20,-10,10,20,30,40,60,70,80,90,110,120,130,140},
  yticklabel style={font=\fa,xshift=0.7pt},
]
\addplot[draw=none,forget plot] coordinates {(-13,0)};
\end{axis}
% ---------- colour bar ----------
\begin{axis}[
  at={(541pt,32pt)},anchor=south west,scale only axis,
  width=27.2pt,height=334.5pt,
  xmin=0,xmax=1,ymin=0,ymax=5000,
  hide x axis,axis y line*=right,axis on top,
  axis line style={-,line width=0.55pt},
  tick style={black,line width=0.55pt},
  tick align=inside,major tick length=14.25pt,
  ytick={0,500,1000,1500,2000,2500,3000,3500,4000,4500},
  yticklabels={0,500,1000,1500,2000,2500,3000,3500,4000,4500},
  yticklabel style={font=\fa,anchor=west,xshift=-0.3pt},
]
\lev{L0}{(0,0)(1,0)(1,250)(0,250)}
\lev{L1}{(0,250)(1,250)(1,500)(0,500)}
\lev{L2}{(0,500)(1,500)(1,750)(0,750)}
\lev{L3}{(0,750)(1,750)(1,1000)(0,1000)}
\lev{L4}{(0,1000)(1,1000)(1,1250)(0,1250)}
\lev{L5}{(0,1250)(1,1250)(1,1500)(0,1500)}
\lev{L6}{(0,1500)(1,1500)(1,1750)(0,1750)}
\lev{L7}{(0,1750)(1,1750)(1,2000)(0,2000)}
\lev{L8}{(0,2000)(1,2000)(1,2250)(0,2250)}
\lev{L9}{(0,2250)(1,2250)(1,2500)(0,2500)}
\lev{L10}{(0,2500)(1,2500)(1,2750)(0,2750)}
\lev{L11}{(0,2750)(1,2750)(1,3000)(0,3000)}
\lev{L12}{(0,3000)(1,3000)(1,3250)(0,3250)}
\lev{L13}{(0,3250)(1,3250)(1,3500)(0,3500)}
\lev{L14}{(0,3500)(1,3500)(1,3750)(0,3750)}
\lev{L15}{(0,3750)(1,3750)(1,4000)(0,4000)}
\lev{L16}{(0,4000)(1,4000)(1,4250)(0,4250)}
\lev{L17}{(0,4250)(1,4250)(1,4500)(0,4500)}
\lev{L18}{(0,4500)(1,4500)(1,4750)(0,4750)}
\lev{L19}{(0,4750)(1,4750)(1,5000)(0,5000)}
\end{axis}
% ---------- page furniture, in reference pixels ----------
\begin{scope}[yshift=382.25pt,x=0.25pt,y=-0.25pt]
\node[font=\fa,anchor=base east,inner sep=0pt] at (2158,1510) {U (cm)};
\node[font=\fa,anchor=base east,inner sep=0pt,rotate=90] at (71,62) {T (ns)};
\draw[gray,dashed,line width=0.25pt] (2392,0)--(2392,1529);
\draw[fill=white,draw=black,line width=0.65pt] (1865,5) rectangle (2346,407);
\draw[black,line width=0.65pt] (1865,72)--(2346,72);
\node[font=\fontsize{6.95pt}{8pt}\selectfont,anchor=base,inner sep=0pt] at (2106,48) {unbVsTime-wire-after-abs-04-ST-X-11};
\node[font=\fs,anchor=base west,inner sep=0pt] at (1886,124) {Entries};
\node[font=\fs,anchor=base east,inner sep=0pt] at (2326,124) {7052628};
\node[font=\fs,anchor=base west,inner sep=0pt] at (1886,191) {Mean x};
\node[font=\fs,anchor=base east,inner sep=0pt] at (2326,191) {−12.67};
\node[font=\fs,anchor=base west,inner sep=0pt] at (1886,253) {Mean y};
\node[font=\fs,anchor=base east,inner sep=0pt] at (2330,257) {29.3};
\node[font=\fs,anchor=base west,inner sep=0pt] at (1886,325) {Std Dev x};
\node[font=\fs,anchor=base east,inner sep=0pt] at (2328,325) {0.2915};
\node[font=\fs,anchor=base west,inner sep=0pt] at (1886,387) {Std Dev y};
\node[font=\fs,anchor=base east,inner sep=0pt] at (2331,392) {48.91};
\end{scope}
\end{tikzpicture}
\end{document}
